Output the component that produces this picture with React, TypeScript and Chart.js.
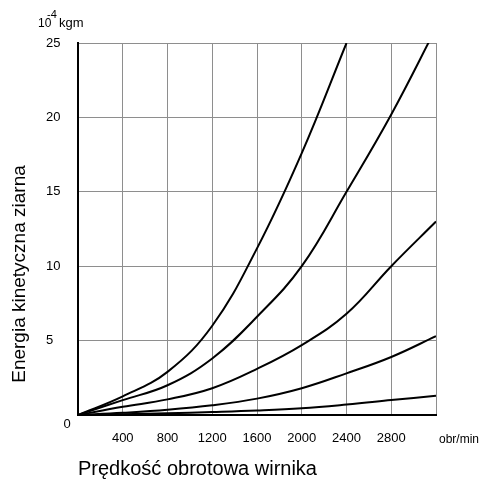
import React, { useEffect, useRef } from "react";
import { Chart, registerables } from "chart.js";

Chart.register(...registerables);

// Rotational speed (obr/min) sample points
const rpm = [0, 400, 800, 1200, 1600, 2000, 2400, 2800, 3200];
// Kinetic energy of grain (10^-4 kgm), five curves
const curveA = [0, 1.25, 2.9, 6.0, 11.2, 17.6, 25.0, null, null];
const curveB = [0, 1.0, 2.0, 3.8, 6.6, 10.0, 15.0, 20.2, 26.0];
const curveC = [0, 0.55, 1.05, 1.8, 3.1, 4.7, 6.8, 10.0, 13.0];
const curveD = [0, 0.15, 0.35, 0.65, 1.1, 1.8, 2.8, 3.9, 5.3];
const curveE = [0, 0.05, 0.12, 0.2, 0.3, 0.45, 0.7, 1.0, 1.3];
const series = [curveA, curveB, curveC, curveD, curveE];

const xTickLabels = ["", "400", "800", "1200", "1600", "2000", "2400", "2800", ""];
const yTickValues = [0, 5, 10, 15, 20, 25];

const xTitle = "Prędkość obrotowa wirnika";
const yTitle = "Energia kinetyczna ziarna";
const unitBase = "10";
const unitExp = "-4";
const unitName = "kgm";
const xUnit = "obr/min";
const originLabel = "0";

const FONT = '"Liberation Sans", Arial, sans-serif';

const textPlugin = {
  id: "textMarks",
  afterDraw(chart: any) {
    const ctx = chart.ctx;
    ctx.save();
    ctx.fillStyle = "#000";
    // y-axis title
    ctx.save();
    ctx.translate(20, 274);
    ctx.rotate(-Math.PI / 2);
    ctx.font = `19px ${FONT}`;
    ctx.textAlign = "center";
    ctx.textBaseline = "middle";
    ctx.fillText(yTitle, 0, 0);
    ctx.restore();
    // unit label
    ctx.textAlign = "left";
    ctx.textBaseline = "alphabetic";
    ctx.font = `12px ${FONT}`;
    ctx.fillText(unitBase, 38, 27);
    ctx.font = `11px ${FONT}`;
    ctx.fillText(unitExp, 47, 18);
    ctx.font = `13px ${FONT}`;
    ctx.fillText(unitName, 59, 27);
    // x unit
    ctx.font = `12px ${FONT}`;
    ctx.textBaseline = "middle";
    ctx.fillText(xUnit, 439, 440);
    // origin label
    ctx.textAlign = "center";
    ctx.font = `13px ${FONT}`;
    ctx.fillText(originLabel, 67, 424);
    ctx.restore();
  },
};

export default function App() {
  const ref = useRef<HTMLCanvasElement | null>(null);
  useEffect(() => {
    document.body.style.margin = "0";
    Chart.defaults.font.family = FONT;
    const canvas = ref.current!;
    const chart = new Chart(canvas, {
      type: "line",
      data: {
        datasets: series.map((s, i) => ({
          label: "k" + i,
          data: rpm.map((r, j) => ({ x: r, y: s[j] as any })),
          borderColor: "#000",
          borderWidth: 2,
          pointRadius: 0,
          fill: false,
          tension: 0.4,
          spanGaps: false,
        })),
      },
      options: {
        responsive: false,
        animation: false,
        layout: { padding: { left: 46, top: 43, right: 45, bottom: 0 } },
        plugins: { legend: { display: false }, tooltip: { enabled: false }, title: { display: false } },
        scales: {
          x: {
            type: "linear",
            min: 0,
            max: 3200,
            afterBuildTicks: (scale: any) => {
              scale.ticks = rpm.map((v) => ({ value: v }));
            },
            afterFit: (scale: any) => {
              scale.height = 64;
            },
            ticks: {
              autoSkip: false,
              maxRotation: 0,
              minRotation: 0,
              padding: 16,
              color: "#000",
              font: { size: 13 },
              callback: (_v: any, idx: number) => xTickLabels[idx],
            },
            grid: { color: "#8e8e8e", lineWidth: 1, drawTicks: false },
            border: { color: "#000", width: 2 },
            title: {
              display: true,
              text: xTitle,
              align: "start",
              color: "#000",
              font: { size: 20, lineHeight: 1 },
              padding: { top: 0, bottom: 0 },
            },
          },
          y: {
            min: 0,
            max: 25,
            afterBuildTicks: (scale: any) => {
              scale.ticks = yTickValues.map((v) => ({ value: v }));
            },
            afterFit: (scale: any) => {
              scale.width = 32;
            },
            ticks: {
              crossAlign: "far",
              color: "#000",
              font: { size: 13 },
              callback: (v: any) => (v === 0 ? "" : String(v)),
            },
            grid: { color: "#8e8e8e", lineWidth: 1, drawTicks: false },
            border: { color: "#000", width: 2 },
          },
        },
      },
      plugins: [textPlugin],
    });
    return () => chart.destroy();
  }, []);
  return <canvas ref={ref} width={481} height={479} style={{ display: "block" }} />;
}
